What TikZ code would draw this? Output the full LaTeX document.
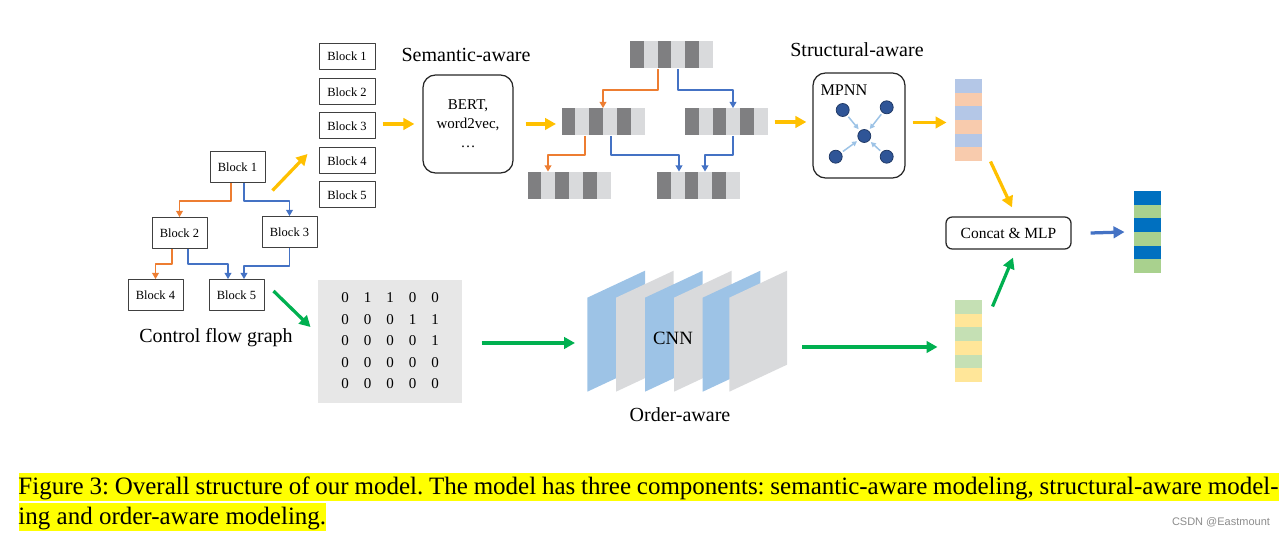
\documentclass[tikz,border=0pt]{standalone}
\usepackage{fontspec}
\setmainfont{Liberation Serif}
\newfontfamily\wmfont{Liberation Sans}
\usepackage{tikz}
\usetikzlibrary{arrows.meta,calc}

\definecolor{yelarr}{RGB}{255,192,0}
\definecolor{grnarr}{RGB}{0,176,80}
\definecolor{bluarr}{RGB}{68,114,196}
\definecolor{orline}{RGB}{237,125,49}
\definecolor{segd}{RGB}{127,127,129}
\definecolor{segl}{RGB}{217,218,220}
\definecolor{featblue}{RGB}{180,199,231}
\definecolor{featpeach}{RGB}{248,203,173}
\definecolor{featgreen}{RGB}{197,224,180}
\definecolor{featyel}{RGB}{255,230,153}
\definecolor{outblue}{RGB}{0,112,192}
\definecolor{outgreen}{RGB}{169,209,142}
\definecolor{cnnblue}{RGB}{157,195,230}
\definecolor{cnngray}{RGB}{217,218,220}
\definecolor{matgray}{RGB}{231,231,231}
\definecolor{mpblue}{RGB}{47,85,151}
\definecolor{mpedge}{RGB}{31,56,100}
\definecolor{hlyel}{RGB}{255,255,0}

\begin{document}
\begin{tikzpicture}[line join=round,>={Triangle[length=4.4pt,width=4.6pt]},x=0.4pt,y=-0.4pt,
  blk/.style={draw=black!75,line width=0.4pt,minimum width=22pt,minimum height=12.4pt,inner sep=0pt,font=\fontsize{5}{6}\selectfont},
  lblk/.style={blk,minimum width=22.4pt,minimum height=10.4pt},
  lbl/.style={inner sep=0pt,font=\fontsize{8}{9.6}\selectfont},
  rbox/.style={draw=black!85,line width=0.5pt,rounded corners=5pt,inner sep=0pt},
  yarr/.style={->,draw=yelarr,fill=yelarr,line width=1.3pt},
  garr/.style={->,draw=grnarr,fill=grnarr,line width=1.3pt},
  barr/.style={->,draw=bluarr,fill=bluarr,line width=1.3pt},
  oline/.style={-{Triangle[length=2.4pt,width=2.7pt]},draw=orline,line width=0.45pt},
  bline/.style={-{Triangle[length=2.4pt,width=2.7pt]},draw=bluarr,line width=0.45pt},
  mparr/.style={-{Triangle[length=2pt,width=2pt]},draw=cnnblue,line width=0.6pt,shorten <=0.8pt,shorten >=0.8pt},
  mpn/.style={circle,fill=mpblue,draw=mpedge,line width=0.3pt,minimum size=5.2pt,inner sep=0pt},
  tokbar/.style={fill=segl,minimum width=33.2pt,minimum height=10.8pt,inner sep=0pt,
    path picture={\foreach \i in {0,2,4} \fill[segd] ($(path picture bounding box.north west)+(\i*13.83,0)$) rectangle ++(13.83,27);}},
  featbar/.style 2 args={fill=#1,minimum width=10.8pt,minimum height=32.8pt,inner sep=0pt,
    path picture={\foreach \i in {1,3,5} \fill[#2] ($(path picture bounding box.north west)+(0,\i*13.67)$) rectangle ++(27,13.67);}},
  matbox/.style={fill=matgray,minimum width=57.6pt,minimum height=49.2pt,inner sep=0pt,font=\fontsize{6}{8.6}\selectfont}]
\useasboundingbox (0,0) rectangle (1286,538);

\node[blk] (b1) at (237.5,167.5) {Block 1};
\node[blk] (b2) at (179.5,233) {Block 2};
\node[blk] (b3) at (289.5,232) {Block 3};
\node[blk] (b4) at (155.5,295) {Block 4};
\node[blk] (b5) at (236.5,295) {Block 5};
\node[lbl] (cfg) at (216,338) {Control flow graph};
\draw[oline] ($(b1.south)+(-6.5,0)$) -- ++(0,17.5) -| (b2.north);
\draw[bline] ($(b1.south)+(6.5,0)$) -- ++(0,17.5) -| (b3.north);
\draw[oline] ($(b2.south)+(-7.5,0)$) -- ++(0,15) -| (b4.north);
\draw[bline] ($(b2.south)+(8.5,0)$) -- ++(0,15) -| ($(b5.north)+(-8.5,0)$);
\draw[bline] (b3.south) -- ++(0,18) -| ($(b5.north)+(7.5,0)$);

\foreach \k/\y in {1/56.5,2/92,3/126,4/161,5/195}
  \node[lblk] (l\k) at (347,\y) {Block \k};
\draw[yarr] ($(b1.south east)+(7,7)$) -- ($(l4.west)+(-11,-7)$);

\node[lbl] (sem) at (466,55) {Semantic-aware};
\node[rbox,minimum width=36pt,minimum height=39.2pt,align=center,font=\fontsize{6}{7.6}\selectfont] (bert) at (468,124) {BERT,\\word2vec,\\…};
\draw[yarr] ($(l3.east)+(7,-2)$) -- ($(bert.west)+(-8,0)$);

\node[tokbar] (tokT) at (671.5,55) {};
\node[tokbar] (tokL) at (603,122) {};
\node[tokbar] (tokR) at (726.5,122) {};
\node[tokbar] (tokBL) at (569,185.5) {};
\node[tokbar] (tokBR) at (698.5,185.5) {};
\draw[yarr] ($(bert.east)+(12,0)$) -- ($(bert.east -| tokL.west)+(-5,0)$);
\draw[oline] ($(tokT.south)+(-13.5,0)$) -- ++(0,21) -| (tokL.north);
\draw[bline] ($(tokT.south)+(6.5,0)$) -- ++(0,21) -| ($(tokR.north)+(6.5,0)$);
\draw[oline] ($(tokL.south)+(-18,0)$) -- ++(0,19) -| ($(tokBL.north)+(-21,0)$);
\draw[bline] ($(tokL.south)+(8,0)$) -- ++(0,19) -| ($(tokBR.north)+(-19.5,0)$);
\draw[bline] ($(tokR.south)+(6.5,0)$) -- ++(0,19) -| ($(tokBR.north)+(6.5,0)$);

\node[lbl] (struc) at (857,50) {Structural-aware};
\node[rbox,minimum width=36.8pt,minimum height=42pt] (mp) at (859,125.5) {};
\node[inner sep=0pt,anchor=west,font=\fontsize{6.5}{7.8}\selectfont] (mptxt) at (820,90) {MPNN};
\node[mpn] (m0) at (864.3,136) {};
\node[mpn] (m1) at (842.7,110) {};
\node[mpn] (m2) at (886.7,107.3) {};
\node[mpn] (m3) at (835.7,156.7) {};
\node[mpn] (m4) at (886.7,156.7) {};
\foreach \k in {1,...,4} \draw[mparr] (m\k) -- (m0);
\draw[yarr] ($(tokR.east)+(6,0)$) -- ($(tokR.east -| mp.west)+(-6,0)$);

\node[featbar={featblue}{featpeach}] (sbar) at (968.5,120) {};
\draw[yarr] ($(mp.east)+(7,-3)$) -- ($(mp.east -| sbar.west)+(-8,-3)$);

\node[rbox,rounded corners=2.5pt,minimum width=50pt,minimum height=12.8pt,font=\fontsize{6.2}{7.4}\selectfont] (cat) at (1008.5,233) {Concat \& MLP};
\node[featbar={featgreen}{featyel}] (obar) at (968.5,341) {};
\node[featbar={outblue}{outgreen}] (outbar) at (1147.5,232) {};
\draw[yarr] ($(sbar.south east)+(8,0)$) -- ($(cat.north)+(3.5,-9)$);
\draw[garr] ($(obar.north east)+(10,7)$) -- ($(cat.south)+(4.5,8)$);
\draw[barr] ($(cat.east)+(19,0)$) -- ($(outbar.west)+(-9,0)$);

\node[matbox] (mat) at (390,341.5) {\setlength{\tabcolsep}{3pt}\begin{tabular}{@{}ccccc@{}}
0&1&1&0&0\\ 0&0&0&1&1\\ 0&0&0&0&1\\ 0&0&0&0&0\\ 0&0&0&0&0\end{tabular}};
\draw[garr] ($(b5.east)+(9,-4)$) -- ($(mat.west)+(-7,-14.5)$);

\foreach \xx/\cc in {587.3/cnnblue,616/cnngray,645/cnnblue,674/cnngray,702.7/cnnblue,729.3/cnngray}
  \fill[\cc] (\xx,297.7) -- ++(57.7,-27) -- ++(0,94) -- ++(-57.7,27) -- cycle;
\node[inner sep=0pt,font=\fontsize{7.5}{9}\selectfont] (cnn) at (673,338) {CNN};
\node[lbl] (order) at (680,415) {Order-aware};
\coordinate (cnnin) at (575,343);
\coordinate (cnnout) at (802,347);
\draw[garr] ($(mat.east)+(19,1.5)$) -- (cnnin);
\draw[garr] (cnnout) -- ($(obar.west)+(-17,6)$);

\node[anchor=base west,inner xsep=0pt,inner ysep=0pt,text height=8.8pt,text depth=2.6pt,fill=hlyel,font=\fontsize{10}{12}\selectfont] (cap1) at (18,495)
  {\frenchspacing\makebox[504pt][s]{Figure 3: Overall structure of our model. The model has three components: semantic-aware modeling, structural-aware model-}};
\node[anchor=base west,inner xsep=0pt,inner ysep=0pt,text height=8.8pt,text depth=2.6pt,fill=hlyel,font=\fontsize{10}{12}\selectfont] (cap2) at (18,525)
  {ing and order-aware modeling.};
\node[inner sep=0pt,text=black!45,font=\wmfont\fontsize{4.4}{5}\selectfont] (wm) at (1221,522) {CSDN @Eastmount};
\end{tikzpicture}
\end{document}
